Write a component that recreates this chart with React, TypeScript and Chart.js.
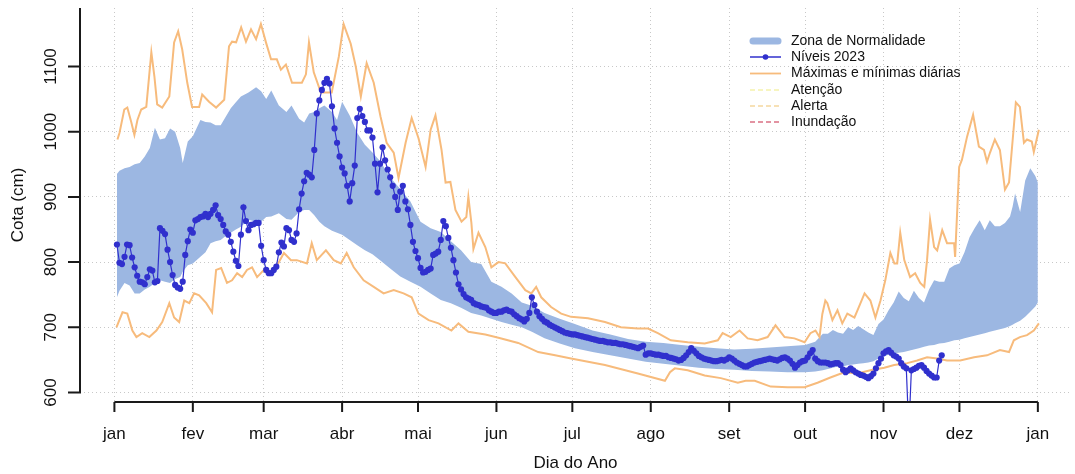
import React, { useEffect, useRef } from 'react';
import { Chart, registerables } from 'chart.js';

Chart.register(...registerables);

// ---------- data ----------
const monthTicks = [0, 31, 59, 90, 120, 151, 181, 212, 243, 273, 304, 334, 365];
const monthLabels = ['jan', 'fev', 'mar', 'abr', 'mai', 'jun', 'jul', 'ago', 'set', 'out', 'nov', 'dez', 'jan'];
const yTicks = [600, 700, 800, 900, 1000, 1100];

const zoneDays = [
  1, 2, 4, 6, 8, 10, 12, 14, 16, 18,
  20, 22, 24, 26, 27, 29, 31, 34, 36, 38,
  40, 42, 44, 46, 48, 50, 53, 56, 58, 60,
  62, 65, 68, 70, 73, 75, 77, 79, 81, 83,
  86, 88, 90, 93, 96, 99, 102, 105, 109, 113,
  117, 121, 125, 129, 133, 137, 141, 145, 149, 153,
  157, 161, 165, 170, 176, 182, 189, 196, 203, 210,
  217, 224, 231, 238, 245, 252, 259, 266, 273, 277,
  280, 282, 284, 286, 288, 290, 292, 294, 296, 298,
  300, 302, 304, 306, 308, 310, 312, 314, 316, 318,
  320, 322, 324, 326, 328, 330, 332, 334, 336, 338,
  340, 342, 344, 346, 348, 350, 352, 354, 355, 356,
  358, 360, 362, 364, 365,
];
const zoneUpper = [
  935, 940, 944, 946, 950, 952, 962, 975, 1006, 988,
  990, 1005, 1000, 975, 952, 985, 993, 1018, 1015, 1014,
  1010, 1010, 1023, 1036, 1045, 1054, 1060, 1068, 1062, 1050,
  1063, 1040, 1030, 1040, 1020, 1014, 1028, 1030, 1036, 1040,
  1030, 1018, 1046, 1025, 998, 980, 968, 955, 930, 912,
  893, 862, 852, 846, 832, 818, 800, 797, 770, 762,
  752, 738, 733, 722, 713, 705, 695, 689, 682, 678,
  676, 673, 670, 668, 666, 667, 669, 671, 673, 678,
  690, 690, 696, 692, 690, 700, 696, 702, 697, 692,
  688, 705, 712, 726, 738, 755, 745, 740, 756, 745,
  738, 758, 772, 770, 770, 790, 795, 798, 815, 838,
  852, 864, 849, 864, 855, 855, 860, 870, 885, 905,
  877, 925, 944, 932, 922,
];
const zoneLower = [
  746, 756, 768, 764, 752, 752, 758, 762, 768, 772,
  770, 768, 774, 777, 785, 795, 798, 808, 815, 829,
  832, 834, 840, 845, 850, 854, 865, 862, 862, 869,
  870, 875, 866, 865, 877, 880, 880, 872, 862, 855,
  848, 845, 842, 834, 826, 818, 812, 803, 790, 778,
  770, 762, 752, 742, 737, 730, 722, 718, 713, 708,
  704, 700, 693, 683, 675, 668, 662, 657, 652, 647,
  644, 641, 638, 636, 635, 633, 632, 631, 631, 632,
  634, 636, 638, 640, 640, 642, 643, 644, 645, 646,
  648, 652, 655, 658, 660, 661, 662, 664, 666, 668,
  670, 672, 673, 675, 676, 678, 680, 681, 683, 685,
  687, 689, 691, 693, 695, 697, 699, 702, 704, 706,
  710, 716, 724, 732, 738,
];

const maxDays = [
  1.2, 2, 3.9, 5.1, 6.7, 7.9, 9.1, 10.6, 12.6, 14.6,
  15.8, 16.9, 18.9, 21.7, 23.6, 25.2, 26.8, 28.8, 30.7, 33.5,
  34.7, 37.4, 40.2, 43.4, 45.3, 46.5, 48.1, 50.1, 52, 54,
  56, 57.9, 59.9, 61.9, 64.2, 65.8, 67.8, 70.2, 74.1, 75.7,
  76.9, 78.8, 81.6, 85.9, 88.7, 90.6, 93.4, 95.4, 97.4, 99.7,
  102.5, 105.2, 107.6, 110.4, 112.3, 115.1, 117.5, 120.2, 123, 125,
  126.9, 129.3, 130.9, 132.8, 134.8, 137.2, 139.1, 139.9, 141.1, 141.9,
  143.9, 146.6, 149, 151.8, 154.5, 158.5, 162.4, 164.8, 166.7, 168.7,
  172.6, 176.6, 180.5, 187.2, 193.9, 200.2, 206.9, 210.9, 214.8, 219.9,
  226.6, 233.3, 238.5, 240.4, 243.6, 247.1, 250.3, 254.2, 258.2, 261.3,
  264.9, 268.8, 272.8, 275.1, 277.1, 278.7, 279.8, 281, 281.8, 283.8,
  285.8, 287.7, 289.7, 292.5, 293.7, 296.5, 298.8, 300.8, 302.8, 304.7,
  306.7, 308.3, 309.4, 310.6, 312.2, 314.5, 316.5, 318.5, 320.1, 321.2,
  322.4, 324, 325.2, 327.2, 329.1, 331.9, 332.3, 333.9, 335, 337,
  339.4, 341.7, 343.7, 344.9, 346.1, 348, 350, 352, 353.6, 355.5,
  356.3, 357.9, 359.5, 360.7, 362.6, 363.4, 365.4,
];
const maxValues = [
  988, 998, 1034, 1037, 1014, 995, 1018, 1034, 1038, 1122,
  1085, 1042, 1037, 1054, 1137, 1154, 1126, 1075, 1038, 1038,
  1057, 1046, 1037, 1049, 1131, 1138, 1137, 1160, 1138, 1157,
  1142, 1165, 1137, 1111, 1111, 1095, 1103, 1075, 1075, 1088,
  1137, 1091, 1060, 1060, 1115, 1165, 1135, 1100, 1054, 1105,
  1075, 1023, 983, 968, 929, 983, 1021, 990, 946, 1003,
  1025, 972, 922, 923, 880, 862, 869, 900, 860, 820,
  845, 823, 792, 800, 798, 777, 757, 752, 762, 746,
  731, 721, 716, 714, 708, 700, 698, 698, 691, 680,
  677, 675, 680, 691, 685, 695, 683, 680, 685, 703,
  685, 683, 677, 691, 695, 685, 720, 741, 737, 711,
  726, 706, 721, 715, 726, 752, 741, 715, 741, 772,
  814, 798, 798, 845, 803, 777, 783, 768, 762, 803,
  865, 823, 818, 849, 829, 829, 808, 946, 957, 992,
  1026, 977, 972, 954, 968, 988, 972, 911, 922, 1008,
  1045, 1038, 983, 988, 985, 969, 1003,
];

const minDays = [
  0.8, 3.2, 5.1, 7.1, 8.7, 11, 13.8, 16.6, 18.9, 21.7,
  23.6, 25.6, 27.6, 29.6, 31.5, 33.5, 36.3, 38.6, 40.2, 42.2,
  44.5, 46.5, 48.5, 50.5, 52.4, 54.4, 56.4, 59.1, 61.9, 63.9,
  67, 69.8, 72.1, 76.1, 78, 80, 83.6, 86.7, 89.5, 91.8,
  94.6, 98.5, 102.5, 106.4, 110.4, 114.3, 117.5, 120.2, 124.2, 128.1,
  133.2, 136, 139.9, 146.6, 151.8, 159.6, 167.5, 174.2, 180.5, 193.9,
  206.9, 217.6, 219.6, 221.5, 226.6, 233.3, 239.7, 246.4, 249.5, 253.1,
  259.4, 266.1, 272.8, 277.9, 283, 288.5, 293.7, 298.8, 304.3, 308.2,
  313.4, 317.3, 321.2, 325.2, 329.1, 334.3, 339.8, 344.9, 350, 353.6,
  355.5, 357.9, 360.7, 363.4, 365.4,
];
const minValues = [
  700, 723, 721, 695, 685, 691, 685, 695, 708, 737,
  715, 708, 741, 737, 752, 749, 737, 723, 788, 791,
  768, 772, 783, 777, 788, 792, 777, 788, 783, 792,
  814, 803, 803, 798, 829, 803, 818, 803, 798, 814,
  792, 772, 762, 752, 757, 752, 746, 721, 711, 706,
  695, 706, 693, 689, 684, 676, 662, 657, 652, 642,
  629, 618, 631, 637, 634, 626, 622, 615, 618, 618,
  609, 608, 608, 615, 623, 631, 629, 634, 638, 642,
  645, 649, 654, 652, 649, 649, 654, 657, 665, 662,
  680, 685, 688, 695, 706,
];

// Níveis 2023: one reading per day, starting on day 1
const levels2023 = [
  827, 799, 797, 808, 827, 826, 807, 792, 779, 770,
  769, 766, 777, 789, 787, 769, 771, 852, 848, 843,
  819, 800, 780, 765, 761, 759, 770, 811, 832, 850,
  845, 864, 866, 869, 870, 874, 869, 874, 880, 887,
  872, 866, 857, 847, 842, 831, 816, 802, 794, 842,
  884, 863, 849, 857, 858, 860, 860, 825, 803, 788,
  783, 783, 788, 793, 815, 830, 824, 852, 849, 834,
  831, 844, 881, 905, 924, 937, 934, 930, 972, 1028,
  1048, 1064, 1075, 1081, 1074, 1039, 1005, 983, 962, 945,
  936, 917, 893, 921, 948, 1021, 1035, 1024, 1015, 1002,
  1002, 991, 951, 907, 951, 976, 956, 942, 930, 917,
  900, 880, 908, 917, 893, 881, 857, 831, 817, 806,
  791, 784, 785, 788, 790, 811, 813, 816, 834, 863,
  855, 837, 822, 803, 784, 766, 758, 751, 746, 744,
  742, 737, 735, 734, 732, 731, 730, 726, 724, 722,
  722, 724, 724, 726, 727, 725, 724, 720, 717, 714,
  712, 709, 713, 722, 746, 734, 724, 717, 713, 709,
  707, 704, 702, 700, 698, 696, 694, 692, 691, 690,
  689, 689, 688, 687, 686, 685, 684, 683, 682, 681,
  680, 679, 679, 678, 677, 677, 676, 676, 675, 674,
  674, 673, 672, 671, 670, 669, 668, 670, 672, 658,
  660, 660, 659, 658, 658, 657, 656, 656, 654, 653,
  652, 651, 649, 650, 653, 657, 662, 668, 664, 660,
  656, 654, 652, 651, 650, 649, 648, 648, 649, 650,
  649, 651, 654, 652, 649, 646, 644, 642, 640, 640,
  642, 644, 646, 647, 648, 649, 650, 651, 652, 651,
  650, 649, 651, 653, 654, 652, 649, 644, 638, 642,
  646, 648, 649, 654, 660, 665, 652, 648, 646, 646,
  646, 645, 643, 644, 645, 645, 642, 635, 631, 634,
  637, 634, 631, 629, 627, 626, 624, 622, 625, 629,
  637, 645, 652, 660, 663, 665, 661, 657, 655, 652,
  645, 640, 637, 540, 634, 636, 638, 641, 642, 638,
  633, 629, 626, 623, 623, 649, 657,
];

const legendLabels = [
  'Zona de Normalidade',
  'Níveis 2023',
  'Máximas e mínimas diárias',
  'Atenção',
  'Alerta',
  'Inundação',
];

// ---------- styling ----------
const FONT = "'Liberation Sans', Arial, Helvetica, sans-serif";
const ZONE = 'rgb(156,183,226)';
const BLUE = 'rgb(48,48,205)';
const ORANGE = 'rgb(247,187,124)';
const GRID = 'rgb(200,200,200)';
const INK = '#111';

const X_MIN = -13.6;
const X_MAX = 378.1;
const Y_MIN = 585.4;
const Y_MAX = 1189.7;

const pts = (xs: number[], ys: number[]) => xs.map((x, i) => ({ x, y: ys[i] }));

const rStylePlugin = {
  id: 'rStyle',
  afterDraw(chart: any) {
    const { ctx, chartArea } = chart;
    const xs = chart.scales.x;
    const ys = chart.scales.y;
    ctx.save();
    ctx.strokeStyle = '#1a1a1a';
    ctx.lineWidth = 2;
    // x axis line and ticks
    const yb = chartArea.bottom;
    ctx.beginPath();
    ctx.moveTo(xs.getPixelForValue(monthTicks[0]), yb);
    ctx.lineTo(xs.getPixelForValue(monthTicks[monthTicks.length - 1]), yb);
    monthTicks.forEach((t) => {
      const px = xs.getPixelForValue(t);
      ctx.moveTo(px, yb);
      ctx.lineTo(px, yb + 10);
    });
    ctx.stroke();
    // y axis line and ticks
    const xl = chartArea.left;
    ctx.beginPath();
    ctx.moveTo(xl, chartArea.top);
    ctx.lineTo(xl, ys.getPixelForValue(yTicks[0]) + 1);
    yTicks.forEach((v) => {
      const py = ys.getPixelForValue(v);
      ctx.moveTo(xl, py);
      ctx.lineTo(xl - 12, py);
    });
    ctx.stroke();

    // legend
    const x0 = 750;
    const x1 = 781;
    const tx = 791;
    const rows = [41, 57, 73.5, 90, 106, 122];
    ctx.font = `14px ${FONT}`;
    ctx.textBaseline = 'middle';
    ctx.textAlign = 'left';
    legendLabels.forEach((label, i) => {
      const y = rows[i];
      ctx.save();
      if (i === 0) {
        ctx.strokeStyle = ZONE;
        ctx.lineWidth = 7;
        ctx.lineCap = 'round';
        ctx.beginPath();
        ctx.moveTo(x0 + 3, y);
        ctx.lineTo(x1 - 3, y);
        ctx.stroke();
      } else if (i === 1) {
        ctx.strokeStyle = BLUE;
        ctx.lineWidth = 1.5;
        ctx.beginPath();
        ctx.moveTo(x0, y);
        ctx.lineTo(x1, y);
        ctx.stroke();
        ctx.fillStyle = BLUE;
        ctx.beginPath();
        ctx.arc((x0 + x1) / 2, y, 2.8, 0, Math.PI * 2);
        ctx.fill();
      } else if (i === 2) {
        ctx.strokeStyle = ORANGE;
        ctx.lineWidth = 1.8;
        ctx.beginPath();
        ctx.moveTo(x0, y);
        ctx.lineTo(x1, y);
        ctx.stroke();
      } else {
        const cols = ['rgb(240,236,130)', 'rgb(240,196,110)', 'rgb(200,40,70)'];
        ctx.strokeStyle = cols[i - 3];
        ctx.lineWidth = 1.2;
        ctx.setLineDash([5, 3]);
        ctx.beginPath();
        ctx.moveTo(x0, y);
        ctx.lineTo(x1, y);
        ctx.stroke();
      }
      ctx.restore();
      ctx.fillStyle = INK;
      ctx.fillText(label, tx, y);
    });
    ctx.restore();
  },
};

export default function App() {
  const ref = useRef<HTMLCanvasElement | null>(null);

  useEffect(() => {
    const canvas = ref.current;
    if (!canvas) return;
    const chart = new Chart(canvas, {
      type: 'line',
      data: {
        datasets: [
          {
            label: 'Zona de Normalidade (sup)',
            data: pts(zoneDays, zoneUpper),
            borderWidth: 0,
            borderColor: ZONE,
            backgroundColor: ZONE,
            pointRadius: 0,
            fill: '+1',
            order: 10,
          },
          {
            label: 'Zona de Normalidade (inf)',
            data: pts(zoneDays, zoneLower),
            borderWidth: 0,
            borderColor: ZONE,
            pointRadius: 0,
            fill: false,
            order: 10,
          },
          {
            label: 'Máximas diárias',
            data: pts(maxDays, maxValues),
            borderColor: ORANGE,
            borderWidth: 2,
            pointRadius: 0,
            fill: false,
            order: 5,
          },
          {
            label: 'Mínimas diárias',
            data: pts(minDays, minValues),
            borderColor: ORANGE,
            borderWidth: 2,
            pointRadius: 0,
            fill: false,
            order: 5,
          },
          {
            label: 'Níveis 2023',
            data: levels2023.map((v, i) => ({ x: i + 1, y: v })),
            borderColor: BLUE,
            backgroundColor: BLUE,
            borderWidth: 1.2,
            pointRadius: 3.1,
            pointBorderWidth: 0,
            pointBackgroundColor: BLUE,
            fill: false,
            order: 1,
          },
        ],
      },
      options: {
        responsive: false,
        animation: false,
        devicePixelRatio: 1,
        events: [],
        layout: { padding: { top: 8, left: 0, right: 0, bottom: 0 } },
        elements: { line: { tension: 0 } },
        plugins: {
          legend: { display: false },
          tooltip: { enabled: false },
        },
        scales: {
          x: {
            type: 'linear',
            min: X_MIN,
            max: X_MAX,
            afterBuildTicks: (s: any) => {
              s.ticks = monthTicks.map((v) => ({ value: v }));
            },
            afterFit: (s: any) => {
              s.height = 72;
              s.paddingLeft = 0;
              s.paddingRight = 0;
              s.paddingTop = 0;
              s.paddingBottom = 0;
            },
            ticks: {
              autoSkip: false,
              minRotation: 0,
              maxRotation: 0,
              padding: 22,
              color: INK,
              font: { family: FONT, size: 17 },
              callback: (_v: any, i: number) => monthLabels[i],
            },
            grid: { color: GRID, lineWidth: 1, drawTicks: false },
            border: { display: false, dash: [1, 3] },
            title: {
              display: true,
              text: 'Dia do Ano',
              color: INK,
              font: { family: FONT, size: 17 },
              padding: { top: 0, bottom: 0 },
            },
          },
          y: {
            type: 'linear',
            min: Y_MIN,
            max: Y_MAX,
            afterBuildTicks: (s: any) => {
              s.ticks = yTicks.map((v) => ({ value: v }));
            },
            afterFit: (s: any) => {
              s.width = 80;
              s.paddingLeft = 0;
              s.paddingRight = 0;
              s.paddingTop = 0;
              s.paddingBottom = 0;
            },
            ticks: {
              autoSkip: false,
              minRotation: 90,
              maxRotation: 90,
              crossAlign: 'center',
              padding: 10,
              color: INK,
              font: { family: FONT, size: 17 },
              callback: (v: any) => String(v),
            },
            grid: { color: GRID, lineWidth: 1, drawTicks: false },
            border: { display: false, dash: [1, 3] },
            title: {
              display: true,
              text: 'Cota (cm)',
              color: INK,
              font: { family: FONT, size: 17 },
              padding: { top: 8, bottom: 0 },
            },
          },
        },
      },
      plugins: [rStylePlugin],
    } as any);
    return () => chart.destroy();
  }, []);

  return (
    <div style={{ position: 'absolute', left: 0, top: 0, width: 1075, height: 474, background: '#fff' }}>
      <canvas ref={ref} width={1075} height={474} style={{ display: 'block' }} />
    </div>
  );
}
